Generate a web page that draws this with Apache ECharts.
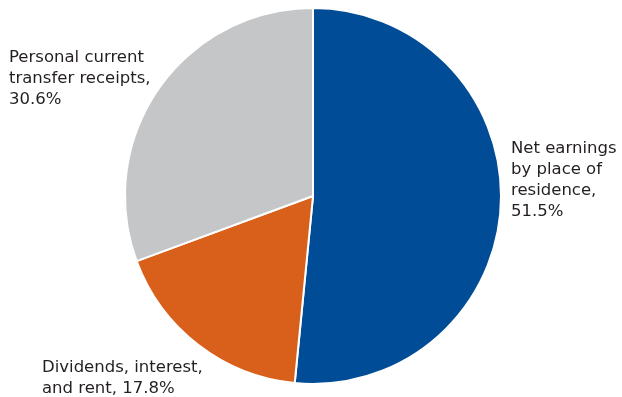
<!DOCTYPE html>
<html>
<head>
<meta charset="utf-8">
<script src="https://cdn.jsdelivr.net/npm/echarts@6/dist/echarts.min.js"></script>
<style>
    html, body { margin: 0; padding: 0; background: #fff; }
    #chart { width: 622px; height: 397px; }
</style>
</head>
<body>
<div id="chart"></div>
<script>
    // slices, clockwise from 12 o'clock
    var categories = ['Net earnings by place of residence', 'Dividends, interest, and rent', 'Personal current transfer receipts'];
    var shares = [51.5, 17.8, 30.6];
    var colors = ['#004c97', '#d9601a', '#c4c6c8'];
    // label text as broken in the original
    var labelTexts = [
        'Net earnings\nby place of\nresidence,\n51.5%',
        'Dividends, interest,\nand rent, 17.8%',
        'Personal current\ntransfer receipts,\n30.6%'
    ];

    // where each label sits (left, top of text block)
    var labelSpots = [
        { x: 511, y: 138 },
        { x: 42, y: 357 },
        { x: 9, y: 47 }
    ];

    var chart = echarts.init(document.getElementById('chart'));
    chart.setOption({
        animation: false,
        series: [{
            type: 'pie',
            center: [313, 196],
            radius: 188,
            startAngle: 90,
            clockwise: true,
            itemStyle: { borderColor: '#fff', borderWidth: 2 },
            label: {
                show: true,
                position: 'outside',
                formatter: function (p) {
                    return labelTexts[p.dataIndex];
                },
                color: '#231f20',
                fontFamily: '"DejaVu Sans", sans-serif',
                fontSize: 16.5,
                lineHeight: 21,
                align: 'left',
                overflow: 'none',
                width: 300
            },
            labelLine: { show: false },
            labelLayout: function (params) {
                var s = labelSpots[params.dataIndex];
                return { x: s.x, y: s.y, align: 'left', verticalAlign: 'top' };
            },
            data: categories.map(function (c, i) {
                return { name: c, value: shares[i], itemStyle: { color: colors[i] } };
            })
        }]
    });
</script>
</body>
</html>
